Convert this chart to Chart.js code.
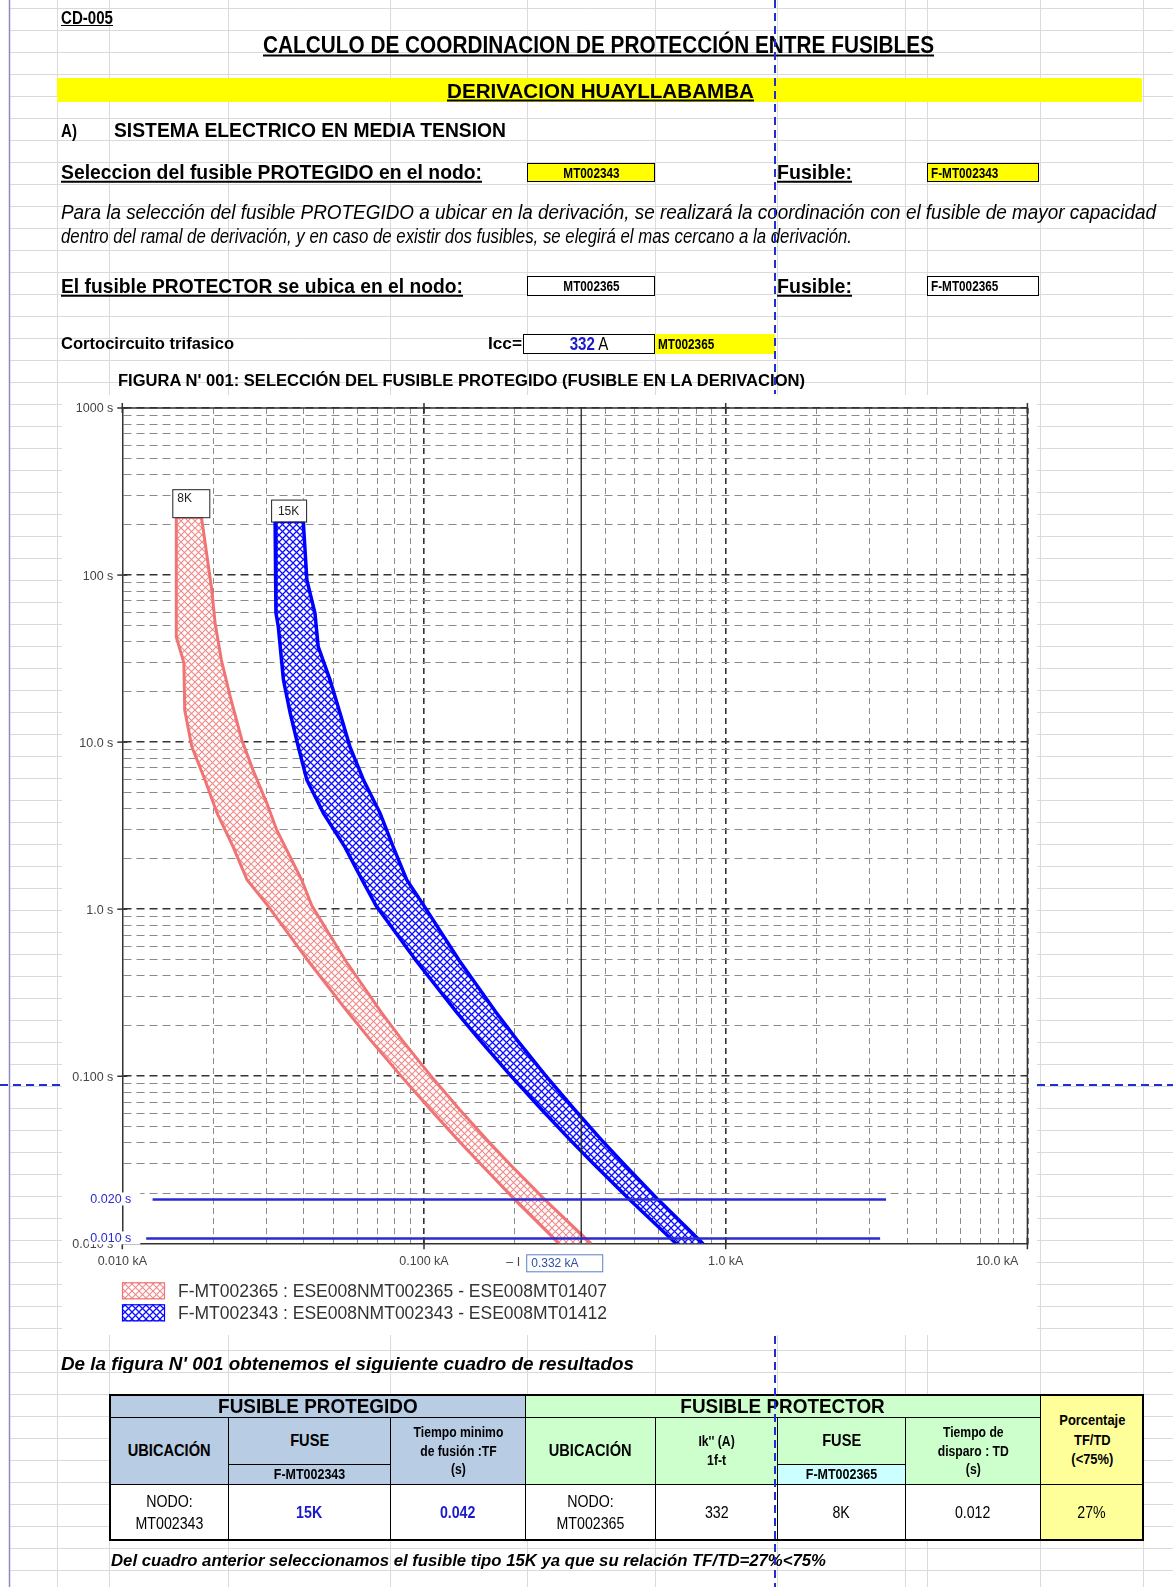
<!DOCTYPE html>
<html><head><meta charset="utf-8">
<script src="https://cdn.jsdelivr.net/npm/chart.js@4.4.1/dist/chart.umd.min.js"></script>
<style>
body{margin:0;width:1173px;height:1587px;position:relative;background:#fff;overflow:hidden;font-family:"Liberation Sans",Arial,sans-serif}
#bg{position:absolute;left:0;top:0}
.t{position:absolute;white-space:nowrap;color:#000;line-height:1;transform-origin:0 50%}
.b{font-weight:bold}
.u{text-decoration:underline}
.i{font-style:italic}
.box{position:absolute;box-sizing:border-box;border:1px solid #000;display:flex;align-items:center;font-weight:bold;font-size:14px;white-space:nowrap}
.box span{display:inline-block;transform:scaleX(0.84);transform-origin:0 50%}
.box.c span{transform-origin:50% 50%}
.cell{position:absolute;box-sizing:border-box;border:1px solid #000;display:flex;align-items:center;justify-content:center;text-align:center;line-height:1.3}
.cell span{display:inline-block;transform-origin:50% 50%}
#chartWrap{position:absolute;left:62px;top:395px;width:975px;height:940px;background:#fff}
</style></head>
<body>
<canvas id="bg" width="1173" height="1587"></canvas>

<div class="t b u" id="cd" style="left:61px;top:18px;font-size:18px">CD-005</div>
<div class="t b u" id="tit" style="left:263px;top:45px;font-size:23px">CALCULO DE COORDINACION DE PROTECCIÓN ENTRE FUSIBLES</div>
<div style="position:absolute;left:57px;top:78px;width:1085px;height:24px;background:#FFFF00"></div>
<div class="t b u" id="der" style="left:447px;top:90px;font-size:21px">DERIVACION HUAYLLABAMBA</div>
<div class="t b" id="aa" style="left:61px;top:131px;font-size:18px">A)</div>
<div class="t b" id="sis" style="left:114px;top:131px;font-size:19.5px">SISTEMA ELECTRICO EN MEDIA TENSION</div>
<div class="t b u" id="sel" style="left:61px;top:172px;font-size:20.5px">Seleccion del fusible PROTEGIDO en el nodo:</div>
<div class="box c" style="left:527px;top:163px;width:128px;height:19px;background:#FFFF00;justify-content:center"><span>MT002343</span></div>
<div class="t b u" id="fu1" style="left:777px;top:172px;font-size:20.5px">Fusible:</div>
<div class="box" style="left:927px;top:163px;width:112px;height:19px;background:#FFFF00;padding-left:3px"><span>F-MT002343</span></div>
<div class="t i" id="p1" style="left:61px;top:213px;font-size:19.5px">Para la selección del fusible PROTEGIDO a ubicar en la derivación, se realizará la coordinación con el fusible de mayor capacidad</div>
<div class="t i" id="p2" style="left:61px;top:237px;font-size:19.5px">dentro del ramal de derivación, y en caso de existir dos fusibles, se elegirá el mas cercano a la derivación.</div>
<div class="t b u" id="elf" style="left:61px;top:286px;font-size:20.5px">El fusible PROTECTOR se ubica en el nodo:</div>
<div class="box c" style="left:527px;top:276px;width:128px;height:20px;background:#fff;justify-content:center"><span>MT002365</span></div>
<div class="t b u" id="fu2" style="left:777px;top:286px;font-size:20.5px">Fusible:</div>
<div class="box" style="left:927px;top:276px;width:112px;height:20px;background:#fff;padding-left:3px"><span>F-MT002365</span></div>
<div class="t b" id="cor" style="left:61px;top:344px;font-size:16px">Cortocircuito trifasico</div>
<div class="t b" id="icc" style="left:488px;top:344px;font-size:16px">Icc=</div>
<div class="box c" style="left:523px;top:334px;width:132px;height:20px;background:#fff;justify-content:center;font-size:18px;font-weight:normal"><span><b style="color:#1a1acc">332</b> A</span></div>
<div class="box" style="left:655px;top:334px;width:120px;height:20px;background:#FFFF00;border:none;padding-left:3px"><span>MT002365</span></div>
<div class="t b" id="fig" style="left:118px;top:381px;font-size:16px">FIGURA N' 001: SELECCIÓN DEL FUSIBLE PROTEGIDO (FUSIBLE EN LA DERIVACION)</div>

<div id="chartWrap"><canvas id="c" width="975" height="940"></canvas></div>

<div class="t b i" id="dlf" style="left:61px;top:1363px;font-size:19px">De la figura N' 001 obtenemos el siguiente cuadro de resultados</div>
<div id="tbl"></div>
<div class="t b i" id="dlc" style="left:111px;top:1561px;font-size:16px">Del cuadro anterior seleccionamos el fusible tipo 15K ya que su relación TF/TD=27%&lt;75%</div>
<canvas id="fg" width="1173" height="1587" style="position:absolute;left:0;top:0;pointer-events:none"></canvas>

<script>
// ---------------- DATA ----------------
const fuse8K_minMelt_kA    = [0.0151,0.0151,0.0160,0.0161,0.0170,0.0188,0.0206,0.0233,0.0259,0.0304,0.0413,0.0558,0.0664,0.0833,0.1052,0.1295,0.1538,0.2003,0.2781,0.2895];
const fuse8K_minMelt_s     = [222,42.6,29.8,15.6,9.36,5.94,3.77,2.36,1.50,1.047,0.491,0.243,0.1651,0.1019,0.0630,0.0416,0.0299,0.0182,0.0101,0.0092];
const fuse8K_totalClear_kA = [0.0183,0.0198,0.0203,0.0213,0.0228,0.0249,0.0271,0.0301,0.0325,0.0393,0.0425,0.0550,0.0720,0.0845,0.1047,0.1314,0.1616,0.1920,0.2518,0.3549,0.3706];
const fuse8K_totalClear_s  = [222,81.4,51.7,31.0,18.65,10.3,6.82,4.33,2.98,1.50,1.047,0.491,0.243,0.1651,0.1019,0.0630,0.0416,0.0299,0.0182,0.0101,0.0092];
const fuse15K_minMelt_kA    = [0.0321,0.0323,0.0329,0.0342,0.0360,0.0383,0.0409,0.0464,0.0547,0.0623,0.0694,0.0942,0.1280,0.1529,0.1928,0.2458,0.3050,0.3646,0.4810,0.6792,0.7067];
const fuse15K_minMelt_s     = [209,59.3,48.9,23.6,14.96,9.40,5.94,3.76,2.35,1.50,1.047,0.491,0.243,0.1651,0.1019,0.0630,0.0416,0.0299,0.0182,0.0101,0.0092];
const fuse15K_totalClear_kA = [0.0398,0.0409,0.0435,0.0446,0.0488,0.0527,0.0568,0.0630,0.0715,0.0791,0.0876,0.1000,0.1310,0.1727,0.2032,0.2518,0.3158,0.3873,0.4587,0.5978,0.8345,0.8684];
const fuse15K_totalClear_s  = [209,93.5,59.3,37.3,23.6,14.9,9.40,5.94,3.76,2.35,1.50,1.047,0.491,0.243,0.1651,0.1019,0.0630,0.0416,0.0299,0.0182,0.0101,0.0092];
const fuseNames = ['8K','15K'];
const legendLabels = ['F-MT002365 : ESE008NMT002365 - ESE008MT01407','F-MT002343 : ESE008NMT002343 - ESE008MT01412'];
const iccKA = 0.332;
const iccLabel = '0.332 kA';
const tdLine_s = [0.0183, 0.0107];
const tdLine_labels = ['0.020 s','0.010 s'];
const tdLine_fromKA = [0.0126, 0.0120];
const tdLine_toKA = [3.40, 3.25];
const xTickValues = [0.01,0.02,0.03,0.04,0.05,0.06,0.07,0.08,0.09,0.1,0.2,0.3,0.4,0.5,0.6,0.7,0.8,0.9,1,2,3,4,5,6,7,8,9,10];
const xTickLabels = {0.01:'0.010 kA',0.1:'0.100 kA',1:'1.0 kA',10:'10.0 kA'};
const yTickValues = [0.01,0.02,0.03,0.04,0.05,0.06,0.07,0.08,0.09,0.1,0.2,0.3,0.4,0.5,0.6,0.7,0.8,0.9,1,2,3,4,5,6,7,8,9,10,20,30,40,50,60,70,80,90,100,200,300,400,500,600,700,800,900,1000];
const yTickLabels = {1000:'1000 s',100:'100 s',10:'10.0 s',1:'1.0 s',0.1:'0.100 s',0.01:'0.010 s'};

// table
const tblHeadProtegido = 'FUSIBLE PROTEGIDO';
const tblHeadProtector = 'FUSIBLE PROTECTOR';
const tblRow = ['NODO:<br>MT002343','15K','0.042','NODO:<br>MT002365','332','8K','0.012','27%'];

// ---------------- BACKGROUND GRID ----------------
const colLines = [57,109,228,390,527,655,777,905,927,1040,1143];
const rowLines = [];
for (let y=8;y<1587;y+=22) rowLines.push(y);
(function(){
  const g=document.getElementById('bg').getContext('2d');
  g.strokeStyle='#dadada'; g.lineWidth=1;
  g.beginPath();
  colLines.forEach(x=>{g.moveTo(x+0.5,0);g.lineTo(x+0.5,1587);});
  rowLines.forEach(y=>{g.moveTo(10,y+0.5);g.lineTo(1173,y+0.5);});
  g.stroke();
  g.strokeStyle='#8c8cc8'; g.lineWidth=1.5;
  g.beginPath(); g.moveTo(9.5,0); g.lineTo(9.5,1587); g.stroke();
})();

function fitW(id,w){const el=document.getElementById(id);const cw=el.getBoundingClientRect().width;el.style.transform='translateY(-50%) scaleX('+(w/cw)+')';}
[['cd',52],['tit',671],['der',307],['sis',392],['sel',421],['fu1',75],['fu2',75],['p1',1095],['p2',791],['elf',402],['cor',173],['icc',34],['fig',687],['dlf',573],['dlc',715]].forEach(a=>fitW(a[0],a[1]));
document.querySelectorAll('.t').forEach(el=>{if(!el.style.transform)el.style.transform='translateY(-50%) scaleX(0.84)';});

// ---------------- TABLE ----------------
(function(){
  const c=[109,228,390,525,655,777,905,1040,1143];
  const r0=1394,r1=1417,rs=1464,r2=1484,r3=1540;
  const BL='#B8CCE4',GR='#CCFFCC',YE='#FFFF99',CY='#CCFFFF';
  const cells=[
    [c[0],r0,c[3],r1,BL,tblHeadProtegido,'bold','21px',0.9],
    [c[3],r0,c[7],r1,GR,tblHeadProtector,'bold','21px',0.9],
    [c[7],r0,c[8],r2,YE,'Porcentaje<br>TF/TD<br>(&lt;75%)','bold','15px',0.86],
    [c[0],r1,c[1],r2,BL,'UBICACIÓN','bold','17px',0.86],
    [c[1],r1,c[2],rs,BL,'FUSE','bold','17px',0.86],
    [c[1],rs,c[2],r2,BL,'F-MT002343','bold','14.5px',0.86],
    [c[2],r1,c[3],r2,BL,'Tiempo minimo<br>de fusión :TF<br>(s)','bold','14.5px',0.84],
    [c[3],r1,c[4],r2,GR,'UBICACIÓN','bold','17px',0.86],
    [c[4],r1,c[5],r2,GR,'Ik\'\' (A)<br>1f-t','bold','14.5px',0.84],
    [c[5],r1,c[6],rs,GR,'FUSE','bold','17px',0.86],
    [c[5],rs,c[6],r2,CY,'F-MT002365','bold','14.5px',0.86],
    [c[6],r1,c[7],r2,GR,'Tiempo de<br>disparo : TD<br>(s)','bold','14.5px',0.84],
  ];
  tblRow.forEach((txt,k)=>{
    const blue = (k===1||k===2);
    cells.push([c[k],r2,c[k+1],r3,k===7?YE:'#fff',txt,blue?'bold':'normal','16.5px',0.86,blue?'#1a1acc':'#000']);
  });
  const host=document.getElementById('tbl');
  cells.forEach(a=>{
    const d=document.createElement('div');d.className='cell';
    d.style.left=a[0]+'px';d.style.top=a[1]+'px';d.style.width=(a[2]-a[0]+1)+'px';d.style.height=(a[3]-a[1]+1)+'px';
    d.style.background=a[4];d.style.fontWeight=a[6];d.style.fontSize=a[7];if(a[9])d.style.color=a[9];
    const s=document.createElement('span');s.innerHTML=a[5];s.style.transform='scaleX('+a[8]+')';d.appendChild(s);
    host.appendChild(d);
  });
  const o=document.createElement('div');o.style.cssText='position:absolute;box-sizing:border-box;border:2px solid #000;left:'+c[0]+'px;top:'+r0+'px;width:'+(c[8]-c[0]+1)+'px;height:'+(r3-r0+1)+'px';
  host.appendChild(o);
})();

// ---------------- CHART ----------------
function hatch(color,size,lw){
  const cv=document.createElement('canvas');cv.width=cv.height=size;
  const g=cv.getContext('2d');g.fillStyle='#fff';g.fillRect(0,0,size,size);
  g.strokeStyle=color;g.lineWidth=lw;g.beginPath();
  g.moveTo(0,0);g.lineTo(size,size);g.moveTo(size,0);g.lineTo(0,size);g.stroke();
  return g.createPattern(cv,'repeat');
}
const pinkHatch=hatch('#f08888',7,1.1);
const blueHatch=hatch('#1010ff',7,1.3);
function band(minI,minT,totI,totT){
  const pts=[];
  for(let k=0;k<minI.length;k++)pts.push({x:minI[k],y:minT[k]});
  for(let k=totI.length-1;k>=0;k--)pts.push({x:totI[k],y:totT[k]});
  pts.push({x:minI[0],y:minT[0]});
  return pts;
}
const isDec=v=>Math.abs(Math.log10(v)-Math.round(Math.log10(v)))<1e-6;

const datasets=[];
tdLine_s.forEach((t,k)=>datasets.push({label:tdLine_labels[k],data:[{x:tdLine_fromKA[k],y:t},{x:tdLine_toKA[k],y:t}],showLine:true,borderColor:'#2a2ad0',borderWidth:2.5,pointRadius:0,fill:false}));
datasets.push({label:iccLabel,data:[{x:iccKA,y:0.01},{x:iccKA,y:1000}],showLine:true,borderColor:'#222',borderWidth:1.3,pointRadius:0,fill:false});
datasets.push({label:legendLabels[1],data:band(fuse15K_minMelt_kA,fuse15K_minMelt_s,fuse15K_totalClear_kA,fuse15K_totalClear_s),showLine:true,borderColor:'#0000ff',borderWidth:3.5,backgroundColor:blueHatch,pointRadius:0,fill:'shape',clip:0});
datasets.push({label:legendLabels[0],data:band(fuse8K_minMelt_kA,fuse8K_minMelt_s,fuse8K_totalClear_kA,fuse8K_totalClear_s),showLine:true,borderColor:'#f07474',borderWidth:3,backgroundColor:pinkHatch,pointRadius:0,fill:'shape',clip:0});

const gridColor=ctx=>{const v=ctx.tick&&ctx.tick.value;if(v===undefined)return'#888';if(ctx.index===0)return 'rgba(0,0,0,0)';return isDec(v)?'#333':'#8a8a8a';};
const gridWidth=ctx=>{const v=ctx.tick&&ctx.tick.value;return (v!==undefined&&isDec(v))?1.6:1;};

const overlay={
  id:'overlay',
  afterDatasetsDraw(chart){
    const ctx=chart.ctx, xs=chart.scales.x, ys=chart.scales.y, a=chart.chartArea;
    ctx.save();
    ctx.strokeStyle='#333';ctx.lineWidth=1.5;ctx.setLineDash([]);
    ctx.beginPath();ctx.moveTo(a.left,a.top);ctx.lineTo(a.right,a.top);ctx.lineTo(a.right,a.bottom);ctx.stroke();
    Object.keys(xTickLabels).forEach(k=>{const x=xs.getPixelForValue(+k);ctx.beginPath();ctx.moveTo(x,a.bottom-6);ctx.lineTo(x,a.bottom+6);ctx.moveTo(x,a.top-5);ctx.lineTo(x,a.top+5);ctx.stroke();});
    Object.keys(yTickLabels).forEach(k=>{const y=ys.getPixelForValue(+k);ctx.beginPath();ctx.moveTo(a.left-5,y);ctx.lineTo(a.left+5,y);ctx.stroke();});
    ctx.fillStyle='#444';ctx.font='12.5px "Liberation Sans",Arial,sans-serif';ctx.textBaseline='middle';
    ctx.textAlign='right';
    Object.keys(yTickLabels).forEach(k=>{const y=ys.getPixelForValue(+k);ctx.fillText(yTickLabels[k],a.left-9,y+1);});
    Object.keys(xTickLabels).forEach(k=>{const v=+k;const x=xs.getPixelForValue(v);
      if(v>=10){ctx.textAlign='right';ctx.fillText(xTickLabels[k],x-9,a.bottom+18);}else{ctx.textAlign='center';ctx.fillText(xTickLabels[k],x,a.bottom+18);}});
    const xi=xs.getPixelForValue(iccKA);
    ctx.textAlign='center';ctx.fillText('– I',xi-68,a.bottom+19);
    ctx.strokeStyle='#5b7fc4';ctx.lineWidth=1;ctx.strokeRect(xi-54.5,a.bottom+11.5,76,17);
    ctx.fillStyle='#2f4fa0';ctx.textAlign='left';ctx.font='12px "Liberation Sans",Arial,sans-serif';ctx.fillText(iccLabel,xi-50,a.bottom+20);
    ctx.font='12.5px "Liberation Sans",Arial,sans-serif';
    tdLine_s.forEach((t,k)=>{const y=ys.getPixelForValue(t);ctx.fillStyle='#fff';ctx.fillRect(a.left-34,y-7,52,13);ctx.fillStyle='#2a2ad0';ctx.textAlign='left';ctx.fillText(tdLine_labels[k],a.left-32,y);});
    ctx.font='12px "Liberation Sans",Arial,sans-serif';
    [[fuse8K_minMelt_kA[0],fuse8K_minMelt_s[0],fuseNames[0],37,28,false],[fuse15K_minMelt_kA[0],fuse15K_minMelt_s[0],fuseNames[1],35,22,true]].forEach(f=>{
      const x=xs.getPixelForValue(f[0])-4, y=ys.getPixelForValue(f[1]);
      ctx.fillStyle='#fff';ctx.fillRect(x,y-f[4],f[3],f[4]);ctx.strokeStyle='#222';ctx.lineWidth=1;ctx.strokeRect(x+0.5,y-f[4]+0.5,f[3],f[4]);
      ctx.fillStyle='#222';ctx.textAlign=f[5]?'center':'left';ctx.fillText(f[2],f[5]?x+f[3]/2:x+5,f[5]?y-f[4]/2+1:y-f[4]+9);
    });
    ctx.font='17.5px "Liberation Sans",Arial,sans-serif';ctx.textAlign='left';
    [[pinkHatch,'#f07474',legendLabels[0]],[blueHatch,'#0000ff',legendLabels[1]]].forEach((L,k)=>{
      const y=a.bottom+47+k*22;
      ctx.fillStyle=L[0];ctx.fillRect(60,y-8,43,17);ctx.strokeStyle=L[1];ctx.lineWidth=1.2;ctx.strokeRect(60.5,y-7.5,42,16);
      ctx.fillStyle='#333';ctx.fillText(L[2],116,y+2);
    });
    ctx.restore();
  }
};

new Chart(document.getElementById('c'),{
  type:'scatter',
  data:{datasets},
  options:{
    responsive:false,animation:false,
    layout:{padding:{left:60.3,top:13,right:9.6,bottom:91.7}},
    plugins:{legend:{display:false},tooltip:{enabled:false}},
    elements:{line:{tension:0}},
    scales:{
      x:{type:'logarithmic',min:0.01,max:10,
        afterBuildTicks:s=>{s.ticks=xTickValues.map(v=>({value:v}));},
        ticks:{display:false},
        grid:{color:gridColor,lineWidth:gridWidth,drawTicks:false},
        border:{display:true,color:'#333',width:1.5,dash:[6,4]}},
      y:{type:'logarithmic',min:0.01,max:1000,
        afterBuildTicks:s=>{s.ticks=yTickValues.map(v=>({value:v}));},
        ticks:{display:false},
        grid:{color:gridColor,lineWidth:gridWidth,drawTicks:false},
        border:{display:true,color:'#333',width:1.5,dash:[8,5]}}
    }
  },
  plugins:[overlay]
});

(function(){
  const g=document.getElementById('fg').getContext('2d');
  g.strokeStyle='#1f2fd0';g.lineWidth=2;g.setLineDash([8,5]);
  g.beginPath();g.moveTo(775,0);g.lineTo(775,394);g.moveTo(775,1336);g.lineTo(775,1587);
  g.moveTo(0,1085);g.lineTo(62,1085);g.moveTo(1037,1085);g.lineTo(1173,1085);g.stroke();
})();
</script>
</body></html>
